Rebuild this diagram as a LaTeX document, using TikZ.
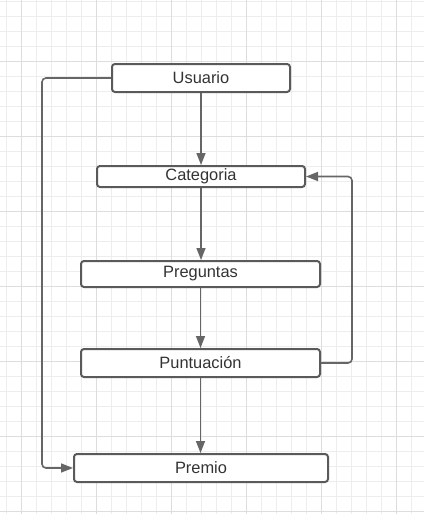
\documentclass[tikz,border=0pt]{standalone}
\usepackage{fontspec}
\setmainfont{Liberation Sans}
\usetikzlibrary{arrows.meta}
\definecolor{gridminor}{HTML}{EDEDED}
\definecolor{gridmajor}{HTML}{DDDDDD}
\definecolor{boxline}{HTML}{5A5A5A}
\definecolor{conline}{HTML}{666666}
\definecolor{txt}{HTML}{333333}
\begin{document}
\begin{tikzpicture}[x=1pt,y=-1pt,
  box/.style={draw=boxline, line width=2pt, rounded corners=3pt, fill=white,
    text=txt, font=\fontsize{16.4}{18}\selectfont, inner sep=0pt},
  con/.style={draw=conline, line width=1.6pt, -{Triangle[length=12pt,width=9pt]}},
  gminor/.style={draw=gridminor, line width=1pt},
  gmajor/.style={draw=gridmajor, line width=1pt}]
\useasboundingbox (0,0) rectangle (424,514);
\fill[white] (0,0) rectangle (424,514);
% grid
\foreach \k in {0,...,27} { \draw[gminor] (6.5+15*\k,0) -- (6.5+15*\k,514); }
\foreach \k in {0,...,34} { \draw[gminor] (0,1.7+15*\k) -- (424,1.7+15*\k); }
\foreach \k in {0,...,5} { \draw[gmajor] (21.5+75*\k,0) -- (21.5+75*\k,514); }
\foreach \k in {0,...,6} { \draw[gmajor] (0,61.7+75*\k) -- (424,61.7+75*\k); }
% nodes
\node[box, minimum width=178pt, minimum height=28pt] (usu) at (201,78) {Usuario};
\node[box, minimum width=208pt, minimum height=21pt] (cat) at (201,176.5) {Categoria};
\node[box, minimum width=239pt, minimum height=26pt] (pre) at (200.5,274) {Preguntas};
\node[box, minimum width=239pt, minimum height=28pt] (pun) at (200.5,363) {Puntuación};
\node[box, minimum width=254pt, minimum height=28pt] (prem) at (201,468) {Premio};
\coordinate (lx) at (42,0);
\coordinate (rx) at (352,0);
% connectors
\draw[con] (usu.south) -- (usu.south |- cat.north);
\draw[con] (cat.south) -- (cat.south |- pre.north);
\draw[con] (pre.south) -- (pre.south |- pun.north);
\draw[con] (pun.south) -- (pun.south |- prem.north);
\draw[con, rounded corners=4pt] (usu.west) -- (usu.west -| lx) -- (prem.west -| lx) -- (prem.west);
\draw[con, rounded corners=4pt] (pun.east) -- (pun.east -| rx) -- (cat.east -| rx) -- (cat.east);
\end{tikzpicture}
\end{document}
